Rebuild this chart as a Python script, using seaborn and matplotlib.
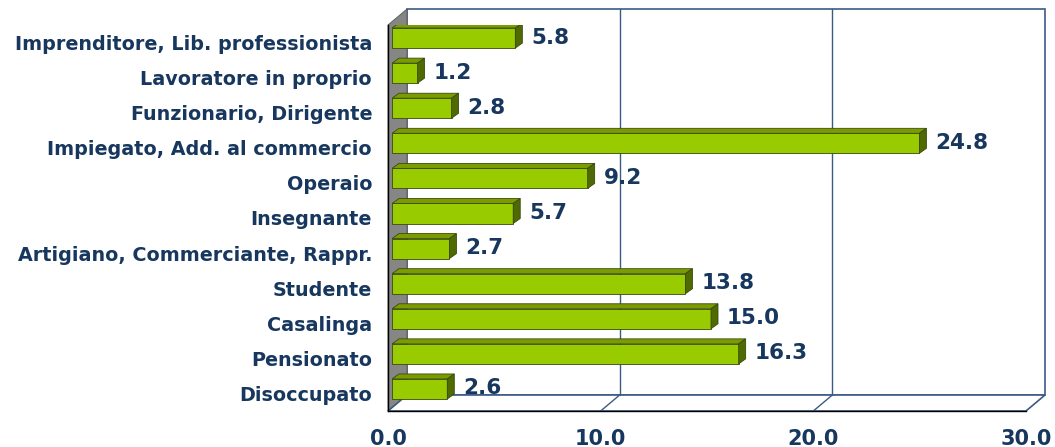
import numpy as np
import matplotlib
matplotlib.use("Agg")
import matplotlib.pyplot as plt
import matplotlib.transforms as mtransforms
from matplotlib.patches import Polygon
import seaborn as sns

# ── Data ─────────────────────────────────────────────────────
categories = ["Imprenditore, Lib. professionista", "Lavoratore in proprio",
              "Funzionario, Dirigente", "Impiegato, Add. al commercio",
              "Operaio", "Insegnante", "Artigiano, Commerciante, Rappr.",
              "Studente", "Casalinga", "Pensionato", "Disoccupato"]
values = [5.8, 1.2, 2.8, 24.8, 9.2, 5.7, 2.7, 13.8, 15.0, 16.3, 2.6]
x_ticks = [0, 10, 20, 30]
x_tick_labels = ["0.0", "10.0", "20.0", "30.0"]

# ── Style ────────────────────────────────────────────────────
NAVY = "#17375E"
GRID = "#3B5B86"
FRONT = "#99CC00"
TOP = "#7A9C00"
SIDE = "#4E6A00"
EDGE = "#3A4A10"
WALL = "#868686"

sns.set_style("white")
plt.rcParams["font.family"] = ["DejaVu Sans"]

W, H = 1055, 447
fig = plt.figure(figsize=(W / 100, H / 100), dpi=100)
L, R, T, B = 388, 1026, 25, 411          # front plane in pixels
ax = fig.add_axes([L / W, 1 - B / H, (R - L) / W, (B - T) / H])

n = len(categories)
xmax = x_ticks[-1]
ux = xmax / (R - L)      # data units per pixel
uy = n / (B - T)

WX, WY = 19, 16          # depth of the walls (px)
BX0, BY0 = 4, 4.5        # bar front face offset (px)
BX, BY = 7, 5            # bar depth (px)
bw = 0.57

# ── Bars (front faces) ───────────────────────────────────────
sns.barplot(x=values, y=categories, orient="h", color=FRONT, saturation=1,
            width=bw, edgecolor=EDGE, linewidth=0.6, ax=ax, zorder=3)
ax.set_xlim(0, xmax)
ax.set_ylim(n - 0.5, -0.5)

shift = mtransforms.offset_copy(ax.transData, fig=fig, x=BX0, y=BY0, units="dots")
for p in ax.patches:
    p.set_transform(shift)

# ── Walls / floor ────────────────────────────────────────────
dx, dy = WX * ux, WY * uy
y0, y1 = -0.5, n - 0.5
back = Polygon([(dx, y0 - dy), (xmax + dx, y0 - dy), (xmax + dx, y1 - dy), (dx, y1 - dy)],
               closed=True, facecolor="white", edgecolor=GRID, lw=1.2,
               clip_on=False, zorder=0.5)
left = Polygon([(0, y0), (dx, y0 - dy), (dx, y1 - dy), (0, y1)],
               closed=True, facecolor=WALL, edgecolor="#555555", lw=0.6,
               clip_on=False, zorder=0.6)
floor = Polygon([(0, y1), (xmax, y1), (xmax + dx, y1 - dy), (dx, y1 - dy)],
                closed=True, facecolor="white", edgecolor=GRID, lw=1.2,
                clip_on=False, zorder=0.6)
for poly in (back, left, floor):
    ax.add_patch(poly)

for g in x_ticks[1:-1]:
    ax.plot([g + dx, g + dx], [y0 - dy, y1 - dy], color=GRID, lw=1, zorder=0.7, clip_on=False)
    ax.plot([g, g + dx], [y1, y1 - dy], color=GRID, lw=1, zorder=0.7, clip_on=False)

# ── Bars (top and side faces) ────────────────────────────────
bx, by = BX * ux, BY * uy
for i, v in enumerate(values):
    yt, yb = i - bw / 2, i + bw / 2
    top = Polygon([(0, yt), (v, yt), (v + bx, yt - by), (bx, yt - by)], closed=True,
                  facecolor=TOP, edgecolor=EDGE, lw=0.6, transform=shift, zorder=3)
    side = Polygon([(v, yt), (v, yb), (v + bx, yb - by), (v + bx, yt - by)], closed=True,
                   facecolor=SIDE, edgecolor=EDGE, lw=0.6, transform=shift, zorder=3)
    ax.add_patch(top)
    ax.add_patch(side)

# ── Value labels ─────────────────────────────────────────────
lab = mtransforms.offset_copy(ax.transData, fig=fig, x=BX0 + 16, y=5, units="dots")
for i, v in enumerate(values):
    ax.text(v, i, f"{v:.1f}", transform=lab, ha="left", va="center",
            fontsize=15.5, fontweight="bold", color=NAVY, zorder=5)

# ── Axes ─────────────────────────────────────────────────────
for s in ("top", "right"):
    ax.spines[s].set_visible(False)
for s in ("left", "bottom"):
    ax.spines[s].set_color("black")
    ax.spines[s].set_linewidth(1)
    ax.spines[s].set_zorder(4)

ax.set_yticks(range(n))
ax.set_yticklabels(categories, fontsize=13.8, fontweight="bold", color=NAVY)
ax.set_yticks(np.arange(-0.5, n, 1), minor=True)
ax.tick_params(axis="y", which="major", length=0, pad=11.5)
ax.tick_params(axis="y", which="minor", length=5.8, width=1, color="black", direction="out")

ax.set_xticks(x_ticks)
ax.set_xticklabels(x_tick_labels, fontsize=15, fontweight="bold", color=NAVY)
ax.tick_params(axis="x", length=5.8, width=1, color="black", direction="out", pad=7)
ax.set_xlabel("")
ax.set_ylabel("")
ax.grid(False)

fig.savefig("out.png", dpi=100)
